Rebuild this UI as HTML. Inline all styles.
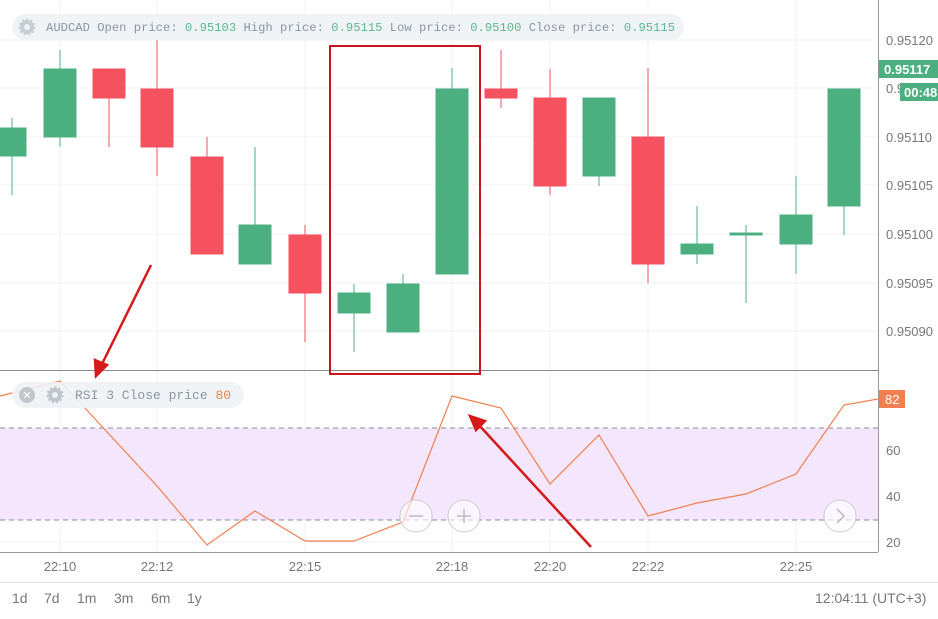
<!DOCTYPE html>
<html><head><style>
body{margin:0;width:938px;height:614px;overflow:hidden;background:#fff;font-family:"Liberation Sans",sans-serif}
</style></head><body>
<svg width="938" height="614" xmlns="http://www.w3.org/2000/svg" font-family="Liberation Sans, sans-serif">
<rect width="938" height="614" fill="#fff"/>
<g stroke="#eef0f3" stroke-width="1">
<line x1="0" y1="40" x2="878" y2="40"/><line x1="0" y1="88" x2="878" y2="88"/><line x1="0" y1="137" x2="878" y2="137"/><line x1="0" y1="185" x2="878" y2="185"/><line x1="0" y1="234" x2="878" y2="234"/><line x1="0" y1="283" x2="878" y2="283"/><line x1="0" y1="331" x2="878" y2="331"/>
<line x1="0" y1="450" x2="878" y2="450"/><line x1="0" y1="496" x2="878" y2="496"/><line x1="0" y1="542" x2="878" y2="542"/>
<line x1="60" y1="0" x2="60" y2="552"/><line x1="157" y1="0" x2="157" y2="552"/><line x1="305" y1="0" x2="305" y2="552"/><line x1="452" y1="0" x2="452" y2="552"/><line x1="550" y1="0" x2="550" y2="552"/><line x1="648" y1="0" x2="648" y2="552"/><line x1="796" y1="0" x2="796" y2="552"/>
</g>
<rect x="0" y="428" width="878" height="92" fill="#f3e6fd"/>
<g stroke="#8a8a9a" stroke-dasharray="5,4" stroke-width="1"><line x1="0" y1="428" x2="878" y2="428"/><line x1="0" y1="520" x2="878" y2="520"/></g>
<g stroke-width="1">
<g fill="#4caf80" stroke="#4caf80">
<line x1="12" y1="118" x2="12" y2="195"/><rect x="0" y="128" width="26" height="28"/>
<line x1="60" y1="50" x2="60" y2="147"/><rect x="44" y="69" width="32" height="68"/>
<line x1="255" y1="147" x2="255" y2="264"/><rect x="239" y="225" width="32" height="39"/>
<line x1="354" y1="284" x2="354" y2="352"/><rect x="338" y="293" width="32" height="20"/>
<line x1="403" y1="274" x2="403" y2="332"/><rect x="387" y="284" width="32" height="48"/>
<line x1="452" y1="68" x2="452" y2="274"/><rect x="436" y="89" width="32" height="185"/>
<line x1="599" y1="98" x2="599" y2="186"/><rect x="583" y="98" width="32" height="78"/>
<line x1="697" y1="206" x2="697" y2="264"/><rect x="681" y="244" width="32" height="10"/>
<line x1="746" y1="225" x2="746" y2="303"/><rect x="730" y="233" width="32" height="2"/>
<line x1="796" y1="176" x2="796" y2="274"/><rect x="780" y="215" width="32" height="29"/>
<line x1="844" y1="89" x2="844" y2="235"/><rect x="828" y="89" width="32" height="117"/>
</g>
<g fill="#f5515f" stroke="#f5515f">
<line x1="109" y1="69" x2="109" y2="147"/><rect x="93" y="69" width="32" height="29"/>
<line x1="157" y1="40" x2="157" y2="176"/><rect x="141" y="89" width="32" height="58"/>
<line x1="207" y1="137" x2="207" y2="254"/><rect x="191" y="157" width="32" height="97"/>
<line x1="305" y1="225" x2="305" y2="342"/><rect x="289" y="235" width="32" height="58"/>
<line x1="501" y1="50" x2="501" y2="108"/><rect x="485" y="89" width="32" height="9"/>
<line x1="550" y1="69" x2="550" y2="195"/><rect x="534" y="98" width="32" height="88"/>
<line x1="648" y1="68" x2="648" y2="283"/><rect x="632" y="137" width="32" height="127"/>
</g></g>
<polyline fill="none" stroke="#f08050" stroke-width="1.2" points="0,396 60,381 157,486 207,545 255,511 305,541 354,541 403,522 452,396 501,408 550,484 599,435 648,516 697,503 746,494 796,474 844,405 878,399"/>
<line x1="0" y1="370.5" x2="878" y2="370.5" stroke="#888" stroke-width="1"/>
<line x1="0" y1="552.5" x2="878" y2="552.5" stroke="#999"/>
<line x1="0" y1="582.5" x2="938" y2="582.5" stroke="#e4e4e4"/>
<line x1="878.5" y1="0" x2="878.5" y2="552" stroke="#999"/>
<g fill="#777" font-size="13">
<text x="886" y="45">0.95120</text><text x="886" y="93">0.9</text><text x="886" y="142">0.95110</text><text x="886" y="190">0.95105</text><text x="886" y="239">0.95100</text><text x="886" y="288">0.95095</text><text x="886" y="336">0.95090</text>
<text x="886" y="455">60</text><text x="886" y="501">40</text><text x="886" y="547">20</text>
</g>
<rect x="879" y="60" width="59" height="18" fill="#4caf80"/><text x="884" y="74" fill="#fff" font-size="13" font-weight="bold">0.95117</text>
<rect x="900" y="83" width="38" height="18" fill="#4caf80"/><text x="904" y="97" fill="#fff" font-size="13" font-weight="bold">00:48</text>
<rect x="879" y="390" width="26" height="18" fill="#f08050"/><text x="885" y="404" fill="#fff" font-size="13">82</text>
<g fill="#777" font-size="13" text-anchor="middle">
<text x="60" y="571">22:10</text><text x="157" y="571">22:12</text><text x="305" y="571">22:15</text><text x="452" y="571">22:18</text><text x="550" y="571">22:20</text><text x="648" y="571">22:22</text><text x="796" y="571">22:25</text>
</g>
<g fill="#777" font-size="14"><text x="12" y="603">1d</text><text x="44" y="603">7d</text><text x="77" y="603">1m</text><text x="114" y="603">3m</text><text x="151" y="603">6m</text><text x="187" y="603">1y</text><text x="815" y="603">12:04:11 (UTC+3)</text></g>
<rect x="12" y="14" width="672" height="26" rx="13" fill="#eef2f5" opacity="0.9"/>
<circle cx="27" cy="27" r="7" fill="#c8cdd2" stroke="#c8cdd2" stroke-width="3" stroke-dasharray="2,2"/><circle cx="27" cy="27" r="3" fill="#eef2f5"/>
<text x="46" y="31" font-family="Liberation Mono, monospace" font-size="12.2" fill="#8a96a0">AUDCAD Open price: <tspan fill="#5bb891">0.95103</tspan> High price: <tspan fill="#5bb891">0.95115</tspan> Low price: <tspan fill="#5bb891">0.95100</tspan> Close price: <tspan fill="#5bb891">0.95115</tspan></text>
<rect x="12" y="382" width="232" height="26" rx="13" fill="#eef2f5" opacity="0.9"/>
<circle cx="27" cy="395" r="8" fill="#c0c6cc"/><text x="27" y="399" text-anchor="middle" fill="#fff" font-size="11">✕</text>
<circle cx="55" cy="395" r="7" fill="#c0c6cc" stroke="#c0c6cc" stroke-width="3" stroke-dasharray="2,2"/><circle cx="55" cy="395" r="3" fill="#eef2f5"/>
<text x="75" y="399" font-family="Liberation Mono, monospace" font-size="13" fill="#8a96a0">RSI 3 Close price  <tspan fill="#f08050">80</tspan></text>
<g fill="#fff" fill-opacity="0.6" stroke="#ccc"><circle cx="416" cy="516" r="16"/><circle cx="464" cy="516" r="16"/><circle cx="840" cy="516" r="16"/></g>
<g stroke="#bbb" stroke-width="1.5" fill="none"><line x1="409" y1="516" x2="423" y2="516"/><line x1="457" y1="516" x2="471" y2="516"/><line x1="464" y1="509" x2="464" y2="523"/><polyline points="837,509 844,516 837,523"/></g>
<rect x="330" y="46" width="150" height="328" fill="none" stroke="#c8161d" stroke-width="2"/>
<g stroke="#d41a1a" stroke-width="2.5" fill="#d41a1a">
<line x1="151" y1="265" x2="101" y2="366"/><polygon points="96,376 95,360 107,365" />
<line x1="591" y1="547" x2="478" y2="424"/><polygon points="470,416 485,421 476,430"/>
</g>
</svg>
</body></html>
